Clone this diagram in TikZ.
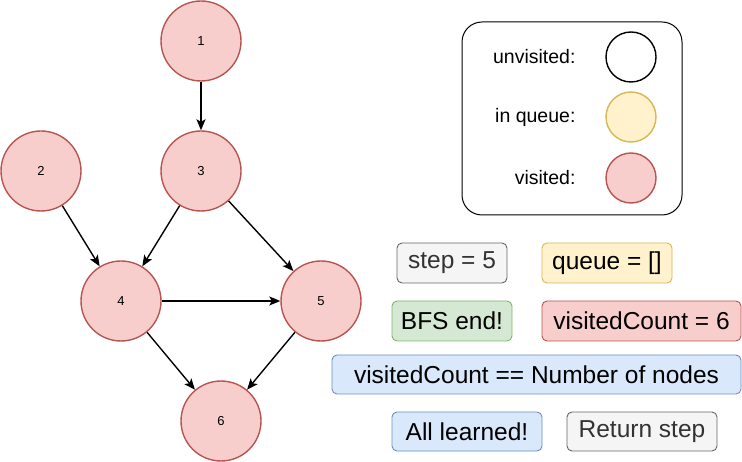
\documentclass[tikz,border=0pt]{standalone}
\usepackage{fontspec}
\setmainfont{Liberation Sans}
\usetikzlibrary{arrows.meta, positioning}

\definecolor{redfill}{HTML}{F8CECC}
\definecolor{reddraw}{HTML}{B85450}
\definecolor{yellowfill}{HTML}{FFF2CC}
\definecolor{yellowdraw}{HTML}{D6B656}
\definecolor{greenfill}{HTML}{D5E8D4}
\definecolor{greendraw}{HTML}{82B366}
\definecolor{bluefill}{HTML}{DAE8FC}
\definecolor{bluedraw}{HTML}{6C8EBF}
\definecolor{grayfill}{HTML}{F5F5F5}
\definecolor{graydraw}{HTML}{666666}
\definecolor{graytext}{HTML}{333333}

\tikzset{
    vertex/.style={circle, draw=reddraw, fill=redfill, line width=1.4pt,
        minimum size=80pt, inner sep=0pt, font=\fontsize{13}{15}\selectfont},
    swatch/.style={circle, line width=1.4pt, minimum size=50pt, inner sep=0pt},
    legendtext/.style={anchor=east, font=\fontsize{19.5}{23}\selectfont},
    infobox/.style={rectangle, rounded corners=5pt, line width=0.9pt,
        minimum height=40pt, inner sep=0pt, font=\fontsize{24.5}{28}\selectfont},
    edge/.style={line width=1.4pt, -{Stealth[length=11pt,width=9pt,inset=2.5pt]}}
}

\begin{document}
\begin{tikzpicture}[x=1pt, y=-1pt]
    \useasboundingbox (0,0) rectangle (742,462);

    % Graph nodes
    \node[vertex] (n1) at (201,41) {1};
    \node[vertex] (n2) at (41,171) {2};
    \node[vertex] (n3) at (201,171) {3};
    \node[vertex] (n4) at (121,301) {4};
    \node[vertex] (n5) at (321,301) {5};
    \node[vertex] (n6) at (221,421) {6};

    % Edges
    \draw[edge] (n1) -- (n3);
    \draw[edge] (n2) -- (n4);
    \draw[edge] (n3) -- (n4);
    \draw[edge] (n3) -- (n5);
    \draw[edge] (n4) -- (n5);
    \draw[edge] (n4) -- (n6);
    \draw[edge] (n5) -- (n6);

    % Legend
    \node[draw, rounded corners=20pt, line width=1pt, minimum width=220pt,
        minimum height=193pt] (legend) at (572,118.5) {};
    \node[swatch, draw=black, fill=white] (unvisited) at (631,57) {};
    \node[swatch, draw=yellowdraw, fill=yellowfill] (inqueue) at (631,117) {};
    \node[swatch, draw=reddraw, fill=redfill] (visited) at (631,178) {};
    \node[legendtext] (unvisitedlabel) at (579,57) {unvisited:};
    \node[legendtext] (inqueuelabel) at (579,117) {in queue:};
    \node[legendtext] (visitedlabel) at (579,178) {visited:};

    % State boxes
    \node[infobox, draw=graydraw, fill=grayfill, text=graytext, minimum width=110pt] (step) at (452,263) {step = 5};
    \node[infobox, draw=yellowdraw, fill=yellowfill, minimum width=130pt] (queue) at (607,263) {queue = []};
    \node[infobox, draw=greendraw, fill=greenfill, minimum width=120pt] (bfsend) at (452,321) {BFS end!};
    \node[infobox, draw=reddraw, fill=redfill, minimum width=199pt] (count) at (641.5,321) {visitedCount = 6};
    \node[infobox, draw=bluedraw, fill=bluefill, minimum width=409pt, minimum height=39pt] (check) at (536.5,374.5) {visitedCount == Number of nodes};
    \node[infobox, draw=bluedraw, fill=bluefill, minimum width=150pt, minimum height=39pt] (learned) at (467,431.5) {All learned!};
    \node[infobox, draw=graydraw, fill=grayfill, text=graytext, minimum width=150pt, minimum height=39pt] (return) at (642,431.5) {Return step};
\end{tikzpicture}
\end{document}
